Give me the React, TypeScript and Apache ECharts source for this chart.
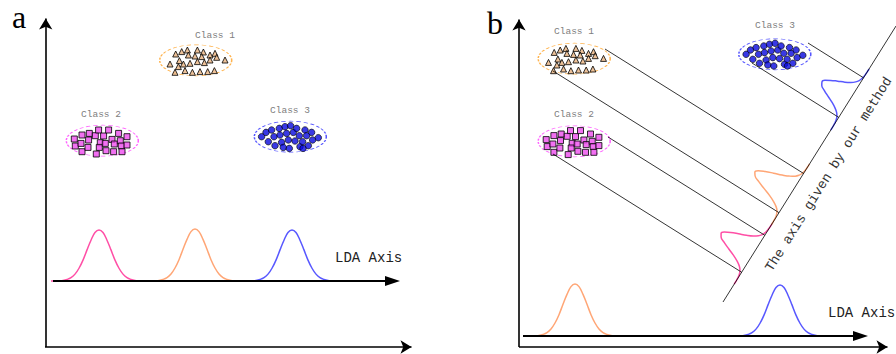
import React, { useEffect, useRef } from "react";
import * as echarts from "echarts";

const W = 896;
const H = 354;

// ---- cluster shapes: offsets (px) of each sample from its ellipse centre
const TRIANGLE_PTS = [
  [-20, -6.3], [-14, -8.7], [-8.3, -10.3], [1.7, -10.3], [7.7, -8.3], [14.3, -5.3], [19.3, -7],
  [-7.3, -5.3], [-0.7, -4.3], [6, -3.7], [21, -3], [29.3, -0.3], [-25.7, 3.7], [-16.3, 0.3],
  [-12.3, 3.7], [-5.7, 3], [1.7, 1.3], [8.7, 2.3], [14.3, -0.3], [-20.7, 12], [-10.7, 10.3],
  [-3.3, 12], [4.3, 11.3], [12, 11.3], [18.7, 10.3], [-17.3, 6.3],
];
const SQUARE_PTS = [
  [-28, -1.7], [-27, 5.3], [-20.3, -5.7], [-21.3, 2.7], [-20.3, 11], [-13, -7.3], [-13.7, -0.7],
  [-14.3, 6.7], [-7, -5], [-3.7, -10.7], [-2, 2], [-3, 6.7], [-6, 13.3], [1.3, -4.7], [3, 2.7],
  [3.7, 10], [6.3, -10.7], [9.7, -1.3], [12, 3.3], [11.3, 11], [16.3, -7.3], [18, 0], [19, 5.3],
  [19.7, 11], [24.7, -4], [24.7, 4.3],
];
const CIRCLE_PTS = [
  [-28.7, 0], [-24.3, -4.3], [-22, 5], [-18.7, -6.7], [-16.3, 0], [-15.3, 9], [-11, -8.3],
  [-10.3, -1.7], [-8.7, 5.7], [-7, 10.7], [-5.3, -10], [-3.7, -3.3], [-2, 3.3], [-1, 11.7],
  [0.3, -11], [3, -4.3], [4.7, 4.3], [6.3, -8.3], [9, -1], [9.7, 10], [12.3, 5], [14.7, -6.7],
  [16.3, -1], [18, 9], [21.3, -4.3], [22.3, 3.3], [28, 1], [12.7, 11.7],
];

// ---- cluster centres in the two panels (Class 1, Class 2, Class 3)
const CLASS_NAMES = ["Class 1", "Class 2", "Class 3"];
const CENTERS_A = [[195.7, 60.3], [102.3, 140.7], [290.3, 136.7]];
const CENTERS_B = [[574.2, 58.7], [574.2, 141.3], [774.8, 54.3]];

// ---- bell-curve profile (relative height at equal steps)
const BELL_SHAPE = [
  0, 0.001, 0.004, 0.011, 0.03, 0.066, 0.135, 0.25, 0.41, 0.61, 0.8, 0.95, 1,
  0.95, 0.8, 0.61, 0.41, 0.25, 0.135, 0.066, 0.03, 0.011, 0.004, 0.001, 0,
];

// panel a: distributions on the LDA axis (pink=Class 2, orange=Class 1, blue=Class 3)
const A_PEAK_X = [99, 195, 292];
const A_HEIGHTS = [51, 52, 51];
const A_BASE = 281;
// panel b: distributions on the LDA axis
const B_PEAK_X = [575, 780];
const B_HEIGHTS = [52, 51];
const B_BASE = 336;
// panel b: distributions on the new axis (position along axis, height)
const TILT_U = [57, 127, 239];
const TILT_HEIGHTS = [38, 42, 33];

// new axis end points and projection sources on the ellipses
const DIAG_START = [723, 302];
const DIAG_END = [896, 26];
const PROJ_SOURCES = [[605, 49], [553, 71], [608, 137], [553, 154], [808, 43], [752, 63]];

const PINK = "#ff4fa6";
const ORANGE = "#ffa676";
const BLUE = "#5858ff";

export default function App() {
  const ref = useRef<HTMLDivElement>(null);

  useEffect(() => {
    document.body.style.margin = "0";
    const chart = echarts.init(ref.current!, undefined, { renderer: "svg" });

    const dx = DIAG_END[0] - DIAG_START[0];
    const dy = DIAG_END[1] - DIAG_START[1];
    const len = Math.hypot(dx, dy);
    const d = [dx / len, dy / len];
    const n = [d[1], -d[0]]; // perpendicular, toward upper-left
    const onDiag = (u: number, v: number) => [
      DIAG_START[0] + u * d[0] + v * n[0],
      DIAG_START[1] + u * d[1] + v * n[1],
    ];
    const foot = (p: number[]) => {
      const u = (p[0] - DIAG_START[0]) * d[0] + (p[1] - DIAG_START[1]) * d[1];
      return onDiag(u, 0);
    };

    const mid = (BELL_SHAPE.length - 1) / 2;
    const flatBell = (cx: number, base: number, h: number) =>
      BELL_SHAPE.map((s, i) => [cx + (i - mid) * 4, base - s * h]);
    const tiltBell = (u0: number, h: number) =>
      BELL_SHAPE.map((s, i) => onDiag(u0 + (i - mid) * 3, s * h));

    const bellSeries = (data: number[][], color: string) => ({
      type: "line",
      data,
      symbol: "none",
      showSymbol: false,
      smooth: 0.4,
      silent: true,
      z: 4,
      lineStyle: { color, width: 1.5 },
    });

    const cluster = (offs: number[][], idx: number) =>
      [CENTERS_A[idx], CENTERS_B[idx]].flatMap((c) => offs.map((o) => [c[0] + o[0], c[1] + o[1]]));

    const ellipseColors = ["#ffa022", "#ff3cff", "#2a2aff"];

    const seg = (a: number[], b: number[]) => [{ coord: a }, { coord: b }];

    const option: any = {
      animation: false,
      backgroundColor: "#ffffff",
      grid: { left: 0, right: 0, top: 0, bottom: 0 },
      xAxis: { type: "value", min: 0, max: W, show: false },
      yAxis: { type: "value", min: 0, max: H, inverse: true, show: false },
      series: [
        // main axes (arrows)
        {
          type: "line",
          data: [],
          markLine: {
            silent: true,
            symbol: ["none", "arrow"],
            symbolSize: [10, 11],
            label: { show: false },
            emphasis: { disabled: true },
            lineStyle: { color: "#000", width: 1.6, type: "solid" },
            data: [
              seg([45.7, 347], [45.7, 18.5]),
              seg([45, 347], [411.5, 347]),
              seg([519, 347], [519, 19.5]),
              seg([519, 347], [887.5, 347]),
            ],
          },
        },
        // LDA axes
        {
          type: "line",
          data: [],
          markLine: {
            silent: true,
            symbol: ["none", "triangle"],
            symbolSize: [10, 15],
            label: { show: false },
            emphasis: { disabled: true },
            lineStyle: { color: "#000", width: 1.8, type: "solid" },
            data: [seg([53, 281], [392.5, 281]), seg([523, 336], [860.5, 336])],
          },
        },
        // new axis and projection lines
        {
          type: "line",
          data: [],
          markLine: {
            silent: true,
            symbol: ["none", "none"],
            label: { show: false },
            emphasis: { disabled: true },
            lineStyle: { color: "#000", width: 0.8, type: "solid" },
            data: [
              seg(DIAG_START, DIAG_END),
              ...PROJ_SOURCES.map((p) => seg(p, foot(p))),
            ],
          },
        },
        // ellipses
        {
          type: "scatter",
          silent: true,
          symbol: "circle",
          symbolSize: [72, 31],
          z: 2,
          data: [...CENTERS_A, ...CENTERS_B].map((c, i) => ({
            value: c,
            itemStyle: {
              color: "#ffffff",
              borderColor: ellipseColors[i % 3],
              borderWidth: 1,
              borderType: [3, 2],
            },
          })),
        },
        // class samples
        {
          type: "scatter",
          silent: true,
          symbol: "triangle",
          symbolSize: 6,
          z: 3,
          itemStyle: { color: "#e8b27e", borderColor: "#000", borderWidth: 1 },
          data: cluster(TRIANGLE_PTS, 0),
        },
        {
          type: "scatter",
          silent: true,
          symbol: "rect",
          symbolSize: 6,
          z: 3,
          itemStyle: { color: "#ee4eee", borderColor: "#000", borderWidth: 1 },
          data: cluster(SQUARE_PTS, 1),
        },
        {
          type: "scatter",
          silent: true,
          symbol: "circle",
          symbolSize: 6.5,
          z: 3,
          itemStyle: { color: "#0808dd", borderColor: "#000", borderWidth: 0.8 },
          data: cluster(CIRCLE_PTS, 2),
        },
        // distributions
        bellSeries(flatBell(A_PEAK_X[0], A_BASE, A_HEIGHTS[0]), PINK),
        bellSeries(flatBell(A_PEAK_X[1], A_BASE, A_HEIGHTS[1]), ORANGE),
        bellSeries(flatBell(A_PEAK_X[2], A_BASE, A_HEIGHTS[2]), BLUE),
        bellSeries(flatBell(B_PEAK_X[0], B_BASE, B_HEIGHTS[0]), ORANGE),
        bellSeries(flatBell(B_PEAK_X[1], B_BASE, B_HEIGHTS[1]), BLUE),
        bellSeries(tiltBell(TILT_U[0], TILT_HEIGHTS[0]), PINK),
        bellSeries(tiltBell(TILT_U[1], TILT_HEIGHTS[1]), ORANGE),
        bellSeries(tiltBell(TILT_U[2], TILT_HEIGHTS[2]), BLUE),
      ],
      graphic: [
        { type: "text", x: 12, y: 1, silent: true, style: { text: "a", font: '32px "Liberation Serif"', fill: "#000", align: "left", verticalAlign: "top" } },
        { type: "text", x: 487, y: 7, silent: true, style: { text: "b", font: '32px "Liberation Serif"', fill: "#000", align: "left", verticalAlign: "top" } },
        ...[[215, 35], [101, 114], [290, 110], [574, 31], [574, 114], [775, 25]].map((p, i) => ({
          type: "text",
          x: p[0],
          y: p[1],
          silent: true,
          style: { text: CLASS_NAMES[i % 3], font: '9.5px "Liberation Mono"', fill: "#808080", align: "center", verticalAlign: "middle" },
        })),
        { type: "text", x: 335, y: 258, silent: true, style: { text: "LDA Axis", font: '14px "Liberation Mono"', fill: "#222", align: "left", verticalAlign: "middle" } },
        { type: "text", x: 828, y: 312.5, silent: true, style: { text: "LDA Axis", font: '14px "Liberation Mono"', fill: "#222", align: "left", verticalAlign: "middle" } },
        {
          type: "text",
          x: 829,
          y: 174.5,
          rotation: Math.atan2(-dy, dx),
          silent: true,
          style: { text: "The axis given by our method", font: '13.5px "Liberation Mono"', fill: "#333", align: "center", verticalAlign: "middle" },
        },
      ],
    };

    chart.setOption(option);
    return () => chart.dispose();
  }, []);

  return <div ref={ref} style={{ width: W, height: H }} />;
}
